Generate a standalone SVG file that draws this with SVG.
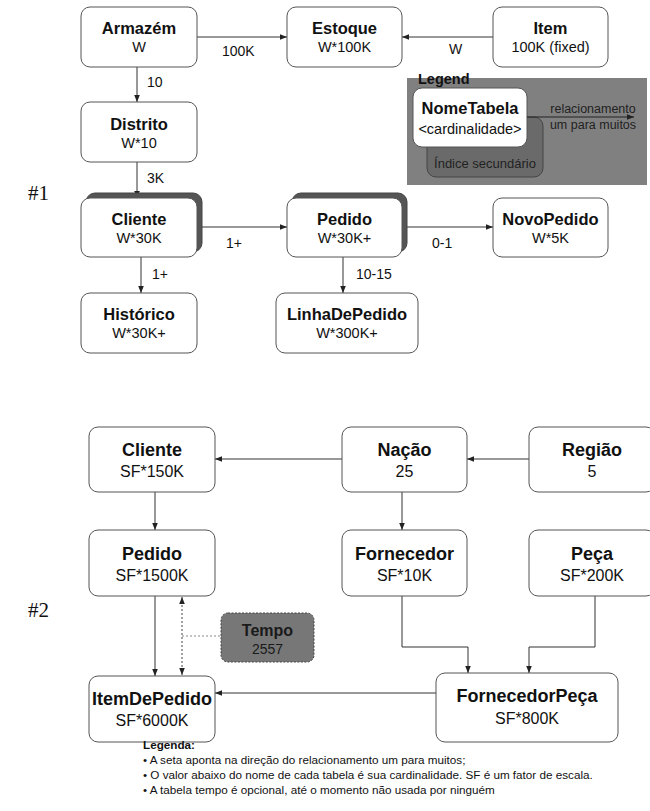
<svg xmlns="http://www.w3.org/2000/svg" width="650" height="811" viewBox="0 0 650 811">
<defs>
<marker id="ah" viewBox="0 0 10 10" refX="10" refY="5" markerWidth="7" markerHeight="7" orient="auto" markerUnits="userSpaceOnUse">
<path d="M0,1 L10,5 L0,9 Z" fill="#222"/>
</marker>
<marker id="ahs" viewBox="0 0 10 10" refX="0" refY="5" markerWidth="7" markerHeight="7" orient="auto" markerUnits="userSpaceOnUse">
<path d="M10,1 L0,5 L10,9 Z" fill="#222"/>
</marker>
</defs>
<style>
.box{fill:#fff;stroke:#555;stroke-width:1}
.shadow{fill:#555;stroke:#444;stroke-width:1}
.t{font-family:"Liberation Sans",Arial,sans-serif;font-weight:bold;font-size:16.5px;fill:#111;text-anchor:middle}
.s{font-family:"Liberation Sans",Arial,sans-serif;font-size:14.5px;fill:#111;text-anchor:middle}
.tb{font-family:"Liberation Sans",Arial,sans-serif;font-weight:bold;font-size:18px;fill:#111;text-anchor:middle}
.sb{font-family:"Liberation Sans",Arial,sans-serif;font-size:16px;fill:#111;text-anchor:middle}
.lbl{font-family:"Liberation Sans",Arial,sans-serif;font-size:14px;fill:#111}
.c{stroke:#333;stroke-width:1;fill:none}
.num{font-family:"Liberation Serif","Times New Roman",serif;font-size:21px;fill:#111}
.leg{font-family:"Liberation Sans",Arial,sans-serif;font-size:11.7px;fill:#111}
</style>
<rect width="650" height="811" fill="#fff"/>

<text class="num" x="28" y="200">#1</text>
<text class="num" x="28" y="617">#2</text>

<!-- Legend (top) -->
<g id="legend1">
<rect x="407" y="78" width="240" height="107" fill="#808080"/>
<text x="418" y="84" font-family="Liberation Sans, Arial, sans-serif" font-weight="bold" font-size="14.5" fill="#111">Legend</text>
<rect x="427" y="117" width="116" height="60" rx="9" fill="#6a6a6a" stroke="#444"/>
<text x="485" y="168" font-family="Liberation Sans, Arial, sans-serif" font-size="13" fill="#222" text-anchor="middle">Índice secundário</text>
<rect x="413" y="88" width="114" height="59" rx="9" fill="#fff" stroke="#555"/>
<text x="470" y="114" font-family="Liberation Sans, Arial, sans-serif" font-weight="bold" font-size="16.5" fill="#111" text-anchor="middle">NomeTabela</text>
<text x="470" y="134" font-family="Liberation Sans, Arial, sans-serif" font-size="14.5" fill="#111" text-anchor="middle">&lt;cardinalidade&gt;</text>
<line x1="527" y1="117" x2="634" y2="117" stroke="#222" marker-end="url(#ah)"/>
<text x="593" y="113" font-family="Liberation Sans, Arial, sans-serif" font-size="12.5" fill="#222" text-anchor="middle">relacionamento</text>
<text x="593" y="129" font-family="Liberation Sans, Arial, sans-serif" font-size="12.5" fill="#222" text-anchor="middle">um para muitos</text>
</g>

<!-- Connectors -->
<g id="connectors">
<line class="c" x1="197" y1="37" x2="287" y2="37" marker-end="url(#ah)"/>
<line class="c" x1="493" y1="37" x2="402" y2="37" marker-end="url(#ah)"/>
<line class="c" x1="137" y1="67" x2="137" y2="102" marker-end="url(#ah)"/>
<line class="c" x1="137" y1="162" x2="137" y2="198" marker-end="url(#ah)"/>
<line class="c" x1="202" y1="227" x2="287" y2="227" marker-end="url(#ah)"/>
<line class="c" x1="407" y1="227" x2="493" y2="227" marker-end="url(#ah)"/>
<line class="c" x1="141" y1="257" x2="141" y2="293" marker-end="url(#ah)"/>
<line class="c" x1="343" y1="257" x2="343" y2="293" marker-end="url(#ah)"/>

<line class="c" x1="529" y1="459" x2="467" y2="459" marker-end="url(#ah)"/>
<line class="c" x1="342" y1="459" x2="215" y2="459" marker-end="url(#ah)"/>
<line class="c" x1="155" y1="492" x2="155" y2="530" marker-end="url(#ah)"/>
<line class="c" x1="402" y1="492" x2="402" y2="530" marker-end="url(#ah)"/>
<path class="c" d="M402,596 V647 H468 V673" marker-end="url(#ah)"/>
<path class="c" d="M595,596 V647 H529 V673" marker-end="url(#ah)"/>
<line class="c" x1="436" y1="693" x2="215" y2="693" marker-end="url(#ah)"/>
<line class="c" x1="155" y1="596" x2="155" y2="676" marker-end="url(#ah)"/>
<line x1="182" y1="597" x2="182" y2="675" stroke="#444" stroke-dasharray="2,2" marker-start="url(#ahs)" marker-end="url(#ah)"/>
<line x1="182" y1="636" x2="221" y2="636" stroke="#888" stroke-dasharray="2,2"/>

<text class="lbl" x="222" y="56">100K</text>
<text class="lbl" x="449" y="54">W</text>
<text class="lbl" x="147" y="87">10</text>
<text class="lbl" x="147" y="183">3K</text>
<text class="lbl" x="226" y="248">1+</text>
<text class="lbl" x="432" y="248">0-1</text>
<text class="lbl" x="152" y="279">1+</text>
<text class="lbl" x="356" y="279">10-15</text>
</g>

<!-- Top nodes -->
<g id="armazem"><rect class="box" x="81" y="7" width="116" height="60" rx="9"/><text class="t" x="139" y="34">Armazém</text><text class="s" x="139" y="52">W</text></g>
<g id="estoque"><rect class="box" x="287" y="7" width="115" height="60" rx="9"/><text class="t" x="344.5" y="34">Estoque</text><text class="s" x="344.5" y="52">W*100K</text></g>
<g id="item"><rect class="box" x="493" y="7" width="115" height="60" rx="9"/><text class="t" x="550.5" y="34">Item</text><text class="s" x="550.5" y="52">100K (fixed)</text></g>
<g id="distrito"><rect class="box" x="81" y="102" width="116" height="60" rx="9"/><text class="t" x="139" y="130">Distrito</text><text class="s" x="139" y="148">W*10</text></g>
<g id="cliente1"><rect class="shadow" x="86" y="193" width="116" height="59" rx="9"/><rect class="box" x="81" y="198" width="116" height="59" rx="9"/><text class="t" x="139" y="225">Cliente</text><text class="s" x="139" y="243">W*30K</text></g>
<g id="pedido1"><rect class="shadow" x="292" y="193" width="115" height="59" rx="9"/><rect class="box" x="287" y="198" width="115" height="59" rx="9"/><text class="t" x="344.5" y="225">Pedido</text><text class="s" x="344.5" y="243">W*30K+</text></g>
<g id="novopedido"><rect class="box" x="493" y="198" width="115" height="59" rx="9"/><text class="t" x="550.5" y="225">NovoPedido</text><text class="s" x="550.5" y="243">W*5K</text></g>
<g id="historico"><rect class="box" x="81" y="293" width="116" height="60" rx="9"/><text class="t" x="139" y="320">Histórico</text><text class="s" x="139" y="338">W*30K+</text></g>
<g id="linhadepedido"><rect class="box" x="276" y="293" width="142" height="60" rx="9"/><text class="t" x="347" y="320">LinhaDePedido</text><text class="s" x="347" y="338">W*300K+</text></g>

<!-- Bottom nodes -->
<g id="cliente2"><rect class="box" x="89" y="427" width="126" height="65" rx="9"/><text class="tb" x="152" y="456">Cliente</text><text class="sb" x="152" y="477">SF*150K</text></g>
<g id="nacao"><rect class="box" x="342" y="427" width="125" height="65" rx="9"/><text class="tb" x="404.5" y="456">Nação</text><text class="sb" x="404.5" y="477">25</text></g>
<g id="regiao"><rect class="box" x="529" y="427" width="126" height="65" rx="9"/><text class="tb" x="592" y="456">Região</text><text class="sb" x="592" y="477">5</text></g>
<g id="pedido2"><rect class="box" x="89" y="530" width="126" height="66" rx="9"/><text class="tb" x="152" y="560">Pedido</text><text class="sb" x="152" y="581">SF*1500K</text></g>
<g id="fornecedor"><rect class="box" x="342" y="530" width="125" height="66" rx="9"/><text class="tb" x="404.5" y="560">Fornecedor</text><text class="sb" x="404.5" y="581">SF*10K</text></g>
<g id="peca"><rect class="box" x="529" y="530" width="126" height="66" rx="9"/><text class="tb" x="592" y="560">Peça</text><text class="sb" x="592" y="581">SF*200K</text></g>
<g id="tempo"><rect x="221" y="613" width="93" height="49" rx="7" fill="#777" stroke="#444" stroke-dasharray="2,1.5"/><text x="267.5" y="636" font-family="Liberation Sans, Arial, sans-serif" font-weight="bold" font-size="16" fill="#1a1a1a" text-anchor="middle">Tempo</text><text x="267.5" y="654" font-family="Liberation Sans, Arial, sans-serif" font-size="14" fill="#1a1a1a" text-anchor="middle">2557</text></g>
<g id="itemdepedido"><rect class="box" x="89" y="676" width="126" height="66" rx="9"/><text class="tb" x="152" y="705">ItemDePedido</text><text class="sb" x="152" y="726">SF*6000K</text></g>
<g id="fornecedorpeca"><rect class="box" x="436" y="673" width="182" height="69" rx="9"/><text class="tb" x="527" y="702">FornecedorPeça</text><text class="sb" x="527" y="724">SF*800K</text></g>

<!-- Bottom legend -->
<g id="legenda">
<text class="leg" x="143" y="749" font-weight="bold">Legenda:</text>
<text class="leg" x="143" y="764">• A seta aponta na direção do relacionamento um para muitos;</text>
<text class="leg" x="143" y="779">• O valor abaixo do nome de cada tabela é sua cardinalidade. SF é um fator de escala.</text>
<text class="leg" x="143" y="794">• A tabela tempo é opcional, até o momento não usada por ninguém</text>
</g>
</svg>
